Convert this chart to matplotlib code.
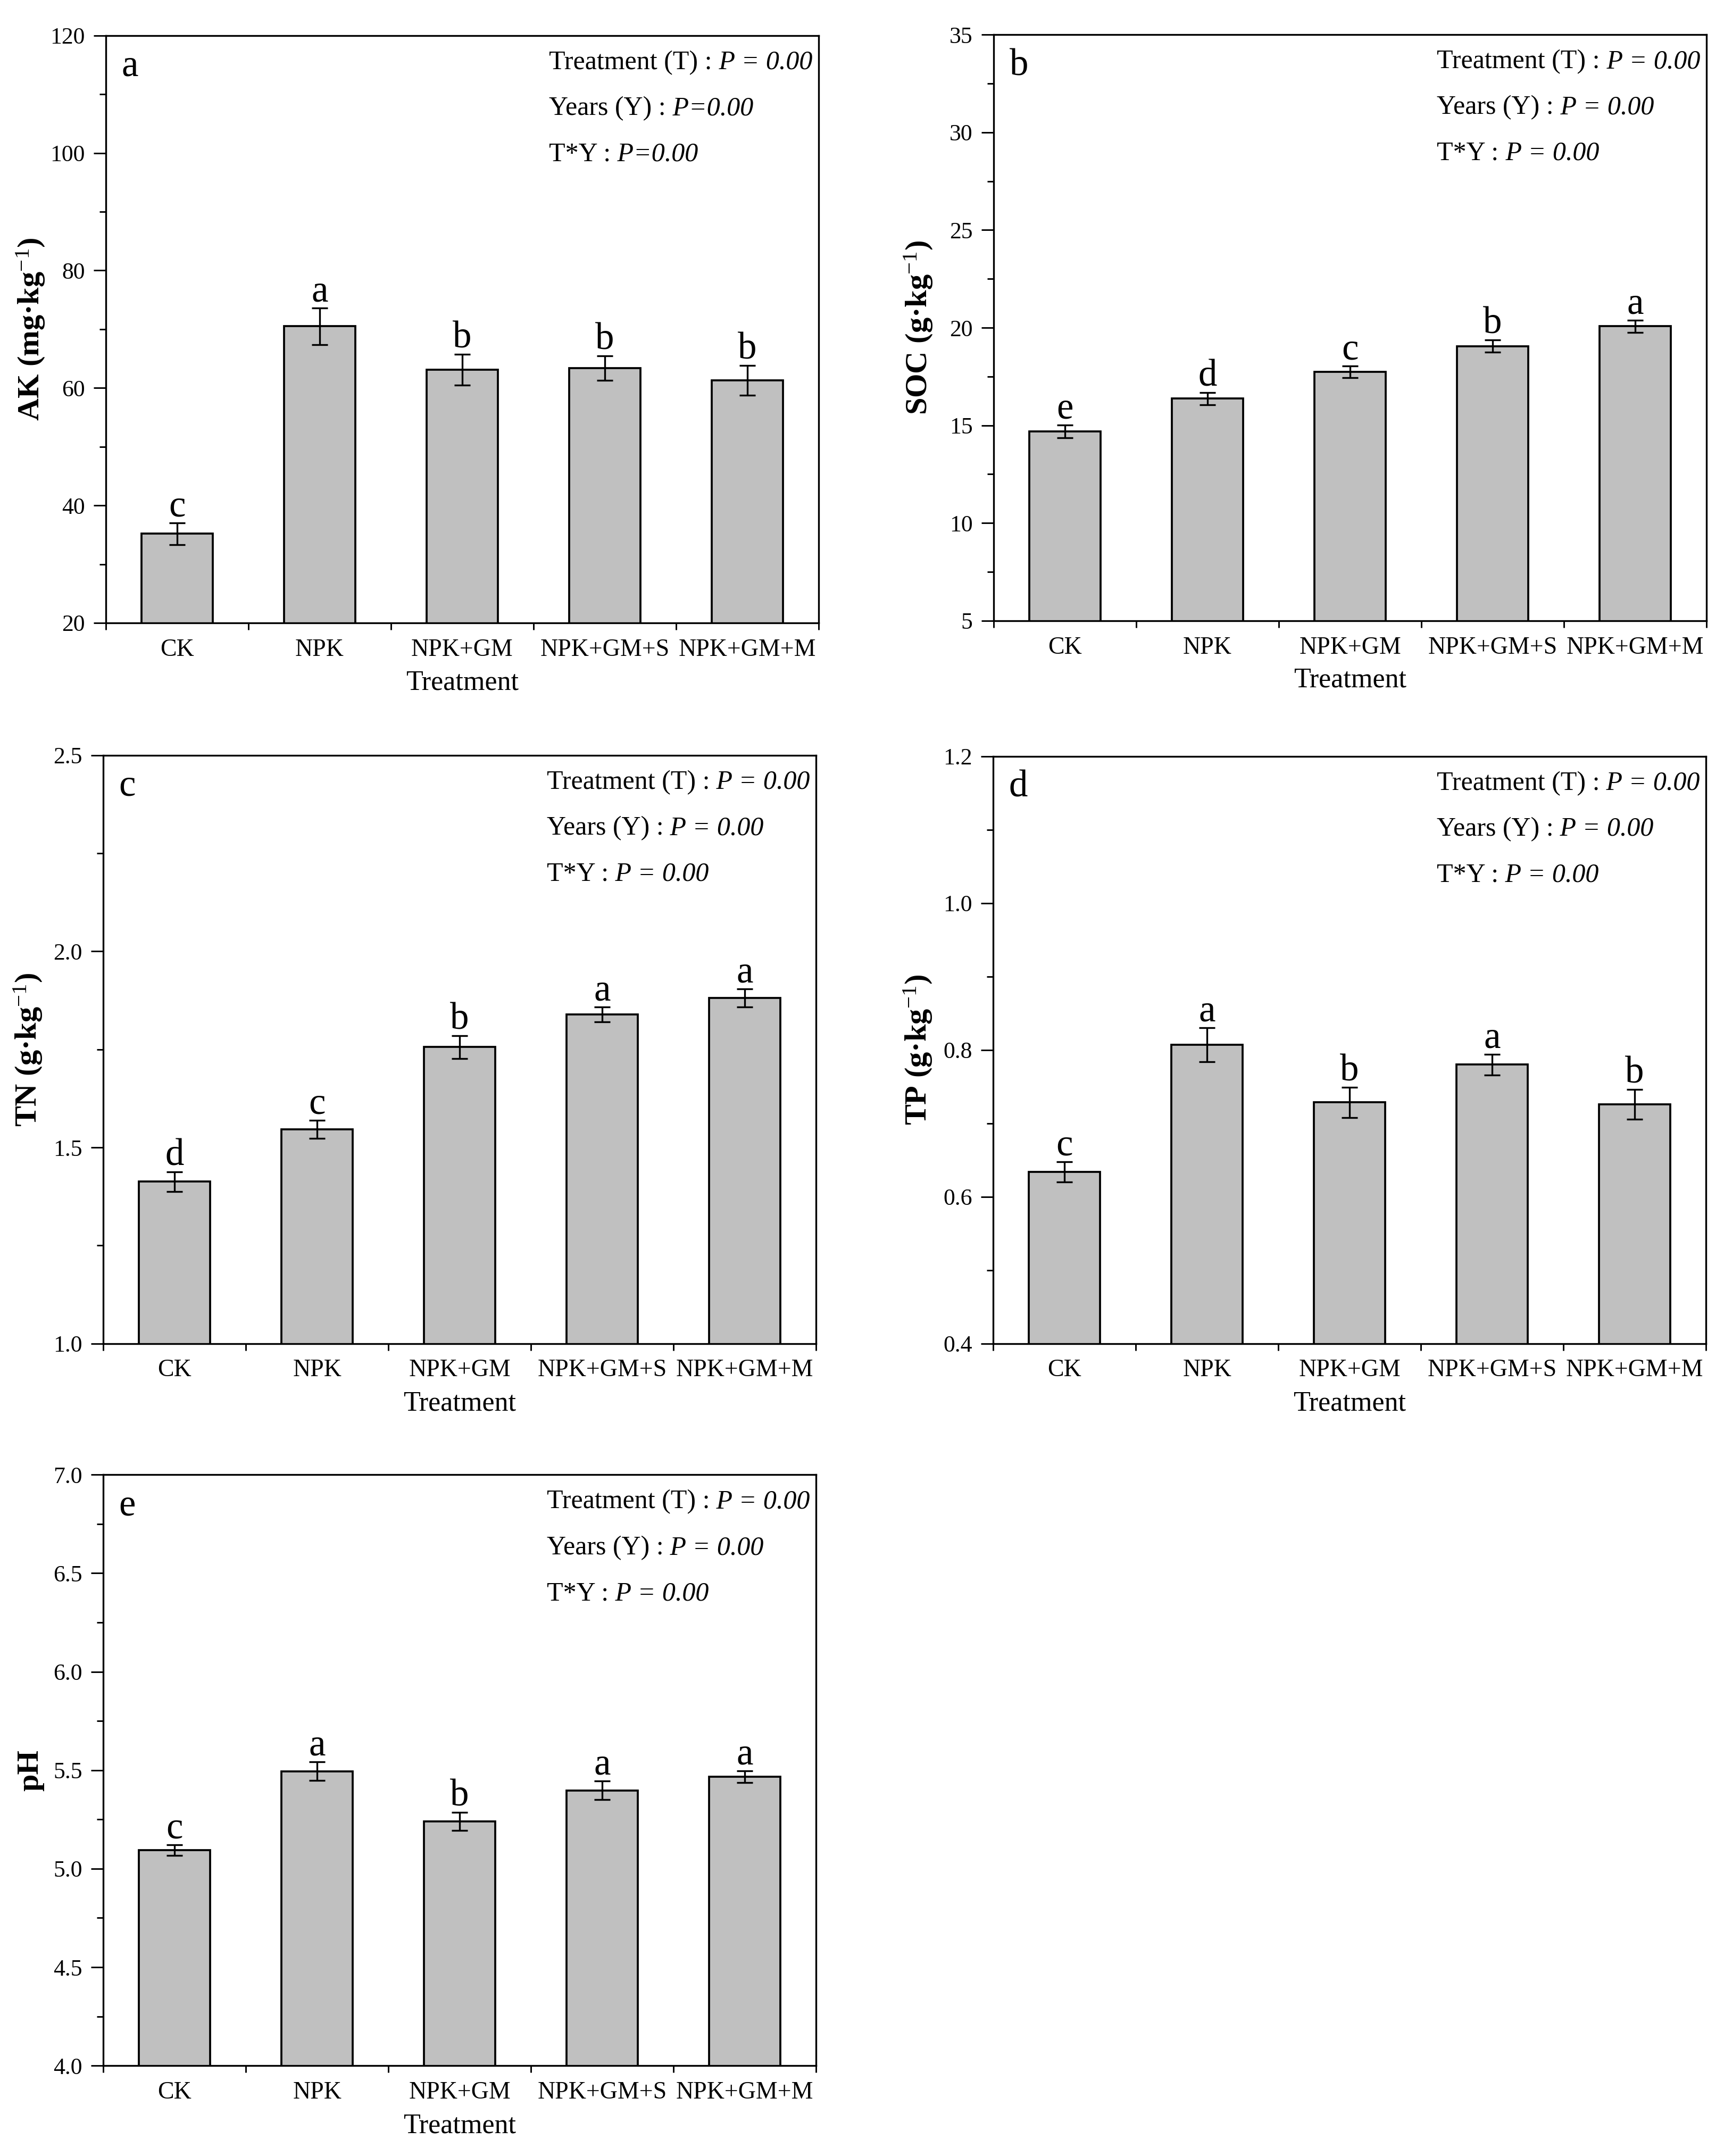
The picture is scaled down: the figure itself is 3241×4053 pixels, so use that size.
import matplotlib
matplotlib.use('Agg')
import matplotlib.pyplot as plt
from matplotlib.ticker import MultipleLocator, FormatStrFormatter, FixedLocator, NullFormatter

plt.rcParams['font.family'] = ['Liberation Serif', 'DejaVu Serif']
plt.rcParams['mathtext.fontset'] = 'custom'
plt.rcParams['mathtext.rm'] = 'Liberation Serif'
plt.rcParams['mathtext.it'] = 'Liberation Serif:italic'
plt.rcParams['mathtext.bf'] = 'Liberation Serif:bold'

treatments = ['CK', 'NPK', 'NPK+GM', 'NPK+GM+S', 'NPK+GM+M']

# a: available potassium
ak_mean = [35.2, 70.5, 63.1, 63.4, 61.3]
ak_err = [1.85, 3.15, 2.65, 2.1, 2.5]
ak_letters = ['c', 'a', 'b', 'b', 'b']

# b: soil organic carbon
soc_mean = [14.69, 16.37, 17.73, 19.06, 20.07]
soc_err = [0.32, 0.32, 0.30, 0.32, 0.30]
soc_letters = ['e', 'd', 'c', 'b', 'a']

# c: total nitrogen
tn_mean = [1.413, 1.546, 1.756, 1.839, 1.881]
tn_err = [0.025, 0.023, 0.029, 0.019, 0.023]
tn_letters = ['d', 'c', 'b', 'a', 'a']

# d: total phosphorus
tp_mean = [0.634, 0.807, 0.7285, 0.780, 0.726]
tp_err = [0.014, 0.023, 0.021, 0.014, 0.020]
tp_letters = ['c', 'a', 'b', 'a', 'b']

# e: pH
ph_mean = [5.094, 5.495, 5.24, 5.397, 5.467]
ph_err = [0.027, 0.048, 0.047, 0.047, 0.030]
ph_letters = ['c', 'a', 'b', 'a', 'a']

stat_names = ['Treatment (T) : ', 'Years (Y) : ', 'T*Y : ']
p_tight = ['P = 0.00', 'P=0.00', 'P=0.00']
p_spaced = ['P = 0.00', 'P = 0.00', 'P = 0.00']

panels = [
    # label, ylabel, mean, err, letters, ylim, major, minor, fmt, p-texts, rect
    ('a', 'AK (mg·kg$^{-1}$)', ak_mean, ak_err, ak_letters, (20, 120), 20, 10, '%d', p_tight,
     [0.0614, 0.7111, 0.4134, 0.2724]),
    ('b', 'SOC (g·kg$^{-1}$)', soc_mean, soc_err, soc_letters, (5, 35), 5, 2.5, '%d', p_spaced,
     [0.5764, 0.7121, 0.4134, 0.2718]),
    ('c', 'TN (g·kg$^{-1}$)', tn_mean, tn_err, tn_letters, (1.0, 2.5), 0.5, 0.25, '%.1f', p_spaced,
     [0.0599, 0.3768, 0.4134, 0.2729]),
    ('d', 'TP (g·kg$^{-1}$)', tp_mean, tp_err, tp_letters, (0.4, 1.2), 0.2, 0.1, '%.1f', p_spaced,
     [0.5761, 0.3768, 0.4134, 0.2724]),
    ('e', 'pH', ph_mean, ph_err, ph_letters, (4.0, 7.0), 0.5, 0.25, '%.1f', p_spaced,
     [0.0599, 0.0419, 0.4134, 0.2741]),
]

fig = plt.figure(figsize=(3241 / 300, 4053 / 300), dpi=300)

x = [i + 0.5 for i in range(len(treatments))]

for label, ylab, mean, err, letters, ylim, major, minor, fmt, ptexts, rect in panels:
    ax = fig.add_axes(rect)
    ax.bar(x, mean, width=0.5, color='#c0c0c0', edgecolor='black', linewidth=0.9, zorder=2)
    ax.errorbar(x, mean, yerr=err, fmt='none', ecolor='black', elinewidth=0.8,
                capsize=3.7, capthick=0.8, zorder=3)
    for xi, m, e, lt in zip(x, mean, err, letters):
        ax.annotate(lt, (xi, m + e), xytext=(0, 3), textcoords='offset points',
                    ha='center', va='baseline', fontsize=17)

    ax.set_xlim(0, 5)
    ax.set_ylim(*ylim)
    ax.xaxis.set_major_locator(FixedLocator(range(6)))
    ax.xaxis.set_major_formatter(NullFormatter())
    ax.xaxis.set_minor_locator(FixedLocator(x))
    ax.set_xticklabels(treatments, minor=True)
    ax.tick_params(axis='x', which='major', direction='out', length=3.2, width=0.7)
    ax.tick_params(axis='x', which='minor', length=0, pad=7, labelsize=11)

    ax.yaxis.set_major_locator(MultipleLocator(major))
    ax.yaxis.set_minor_locator(MultipleLocator(minor))
    ax.yaxis.set_major_formatter(FormatStrFormatter(fmt))
    ax.tick_params(axis='y', which='major', direction='out', length=5.5, width=0.7, pad=4, labelsize=10.5)
    ax.tick_params(axis='y', which='minor', direction='out', length=2.8, width=0.7)

    for sp in ax.spines.values():
        sp.set_linewidth(0.8)

    ax.set_ylabel(ylab, fontsize=14, fontweight='bold')
    ax.yaxis.set_label_coords(-0.083, 0.5)
    ax.set_xlabel('Treatment', fontsize=12.5)
    ax.xaxis.set_label_coords(0.5, -0.08)

    ax.text(0.022, 0.947, label, transform=ax.transAxes, fontsize=17, ha='left', va='center')
    for k, (name, pt) in enumerate(zip(stat_names, ptexts)):
        t = ax.text(0.622, 0.954 - 0.078 * k, name.rstrip(), transform=ax.transAxes,
                    fontsize=12, ha='left', va='center')
        ax.annotate(' ' + pt, xy=(1, 0.5), xycoords=t, fontsize=12,
                    fontstyle='italic', ha='left', va='center')

fig.savefig('out.png', dpi=300)
